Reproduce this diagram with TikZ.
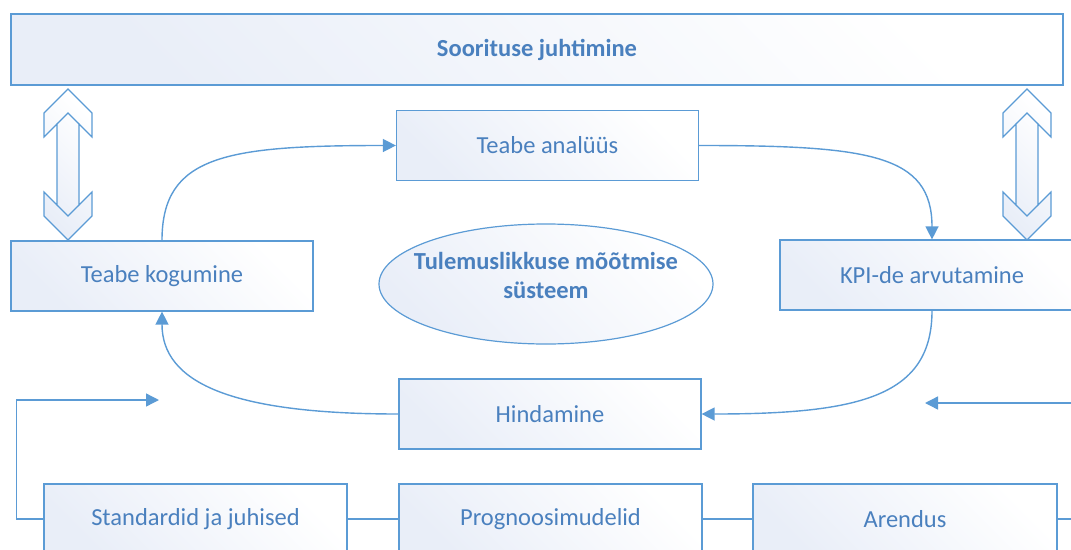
\documentclass[tikz,border=0pt]{standalone}
\usepackage{fontspec}
\setmainfont{Carlito}
\usetikzlibrary{arrows.meta,shapes.geometric}

\definecolor{lineblue}{HTML}{5B9BD5}
\definecolor{textblue}{HTML}{4A80BE}
\definecolor{boxfill}{HTML}{E9EEF8}

\tikzset{
  x=1pt, y=-1pt,
  boxbase/.style={draw=lineblue, line width=1.2pt, inner sep=0pt,
    left color=boxfill, right color=white, shading angle=135,
    text=textblue, font=\fontsize{24.5}{28}\selectfont},
  procbox/.style={boxbase, rectangle, minimum width=302pt, minimum height=70pt},
  conn/.style={draw=lineblue, line width=1.4pt,
    -{Triangle[length=13pt,width=13pt]}},
  link/.style={draw=lineblue, line width=1.4pt},
  dblarrow/.pic={
    \path[draw=lineblue, line width=1.1pt, left color=boxfill, right color=white,
          shading angle=135, line join=miter]
      (0,0) -- (24,24) -- (24,48) -- (11,35) -- (11,116) -- (24,103) -- (24,127)
      -- (0,151) -- (-24,127) -- (-24,103) -- (-11,116) -- (-11,35) -- (-24,48)
      -- (-24,24) -- cycle;
    \draw[lineblue, line width=1.1pt] (-11,35) -- (0,24) -- (11,35);
    \draw[lineblue, line width=1.1pt] (-11,116) -- (0,127) -- (11,116);
  }
}

\begin{document}
\begin{tikzpicture}
\useasboundingbox (0,0) rectangle (1071,549);
\clip (0,0) rectangle (1071,549);

% management layer
\node[boxbase, rectangle, minimum width=1052pt, minimum height=71pt,
      font=\fontsize{24.5}{28}\selectfont\bfseries] (top) at (537,49.5) {Soorituse juhtimine};

% measurement cycle
\node[procbox] (ana) at (547.5,145.5) {Teabe analüüs};
\node[procbox] (kog) at (162,276) {Teabe kogumine};
\node[procbox, minimum width=304pt] (kpi) at (932,275) {KPI-de arvutamine};
\node[procbox] (hin) at (550,414) {Hindamine};
\node[boxbase, ellipse, minimum width=334pt, minimum height=120pt] (pms) at (546,284) {};
\node[text=textblue, align=center, inner sep=0pt,
      font=\fontsize{24.5}{29.5}\selectfont\bfseries] (pmstext) at ([yshift=8.5pt]pms.center)
      {Tulemuslikkuse mõõtmise\\süsteem};

% supporting inputs
\node[procbox, minimum width=303pt] (std) at (195.5,519) {Standardid ja juhised};
\node[procbox, minimum width=303pt] (pro) at (550.5,519) {Prognoosimudelid};
\node[procbox, minimum width=304pt] (are) at (905,519) {Arendus};

% two-way links to management
\pic at (68,89) {dblarrow};
\pic at (1027,89) {dblarrow};

% cycle connectors
\draw[conn] (kog.north) .. controls +(0,-85) and +(-170,0) .. (ana.west);
\draw[conn] (ana.east) .. controls +(170,0) and +(0,-85) .. (kpi.north);
\draw[conn] (kpi.south) .. controls +(0,85) and +(160,0) .. (hin.east);
\draw[conn] (hin.west) .. controls +(-170,0) and +(0,70) .. (kog.south);

% feedback from the inputs
\coordinate (fbL) at (159,400);
\coordinate (fbR) at (925,403);
\draw[conn] (std.west) -- ++(-27,0) |- (fbL);
\draw[conn] (are.east) -- ++(30,0) |- (fbR);
\draw[link] (std.east) -- (pro.west);
\draw[link] (pro.east) -- (are.west);
\end{tikzpicture}
\end{document}
